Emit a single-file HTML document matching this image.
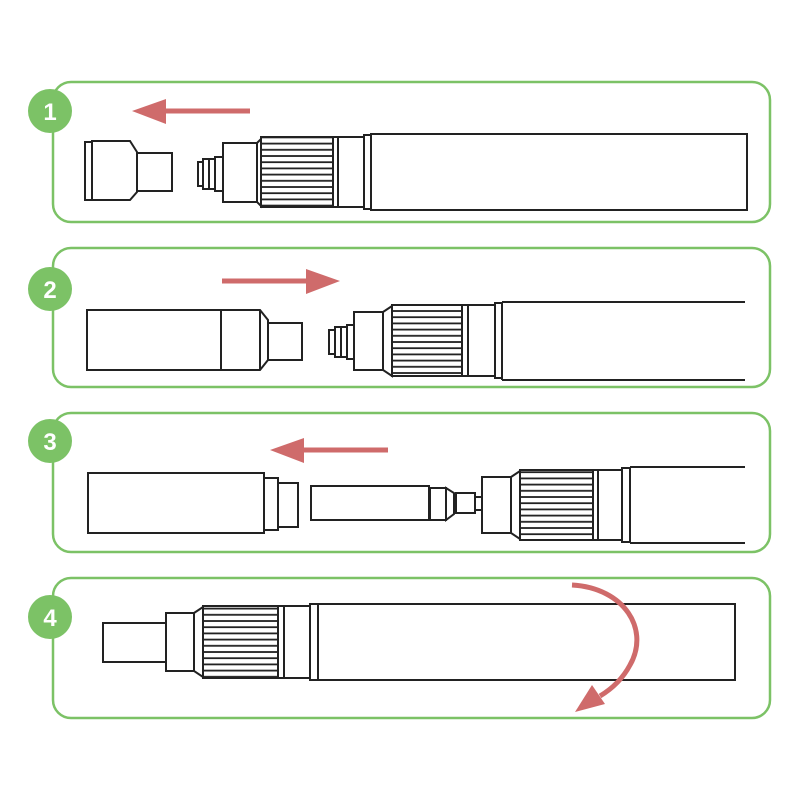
<!DOCTYPE html>
<html><head><meta charset="utf-8"><style>html,body{margin:0;padding:0;background:#fff}svg{display:block}</style></head>
<body>
<svg width="800" height="800" viewBox="0 0 800 800" xmlns="http://www.w3.org/2000/svg">
<defs>
<pattern id="kn" width="10" height="6.2" patternUnits="userSpaceOnUse"><rect width="10" height="6.2" fill="#fff"/><line x1="0" y1="1" x2="10" y2="1" stroke="#222" stroke-width="1.8"/></pattern>
</defs>
<g fill="none" stroke="#7cc266" stroke-width="2.5">
<rect x="53" y="82" width="717" height="140" rx="18"/>
<rect x="53" y="248" width="717" height="139" rx="18"/>
<rect x="53" y="413" width="717" height="139" rx="18"/>
<rect x="53" y="578" width="717" height="140" rx="18"/>
</g>
<g fill="#7cc266"><circle cx="50" cy="111" r="22"/><circle cx="50" cy="289" r="22"/><circle cx="50" cy="441" r="22"/><circle cx="50" cy="617" r="22"/></g>
<g fill="#fff" font-family="Liberation Sans, sans-serif" font-weight="bold" font-size="24" text-anchor="middle">
<text x="50" y="120">1</text><text x="50" y="298">2</text><text x="50" y="450">3</text><text x="50" y="626">4</text></g>
<g fill="#cf6b6b" stroke="#cf6b6b">
<line x1="160" y1="111" x2="250" y2="111" stroke-width="5"/><polygon points="132,111 166,99 166,124" stroke="none"/>
<line x1="222" y1="281" x2="312" y2="281" stroke-width="5"/><polygon points="340,281 306,269 306,294" stroke="none"/>
<line x1="300" y1="450" x2="388" y2="450" stroke-width="5"/><polygon points="270,450 304,438 304,463" stroke="none"/>
</g>
<g stroke="#222" stroke-width="2" fill="#fff">
<rect x="85" y="142" width="7" height="58"/>
<path d="M92 141 H130 L137 152 V192 L130 200 H92 Z"/>
<rect x="137" y="153" width="35" height="38"/>
<rect x="198" y="162" width="5" height="24"/><rect x="203" y="159" width="6" height="30"/><rect x="209" y="159" width="6" height="30"/><rect x="215" y="157" width="8" height="34"/>
<rect x="223" y="143" width="34" height="59"/>
<path d="M257 143 L261 139 V206 L257 202 Z"/>
<rect x="261" y="137" width="72" height="70" fill="url(#kn)"/>
<rect x="333" y="137" width="5" height="70"/>
<rect x="338" y="137" width="26" height="70"/>
<rect x="364" y="135" width="7" height="74"/>
<rect x="371" y="134" width="376" height="76"/>
<rect x="87" y="310" width="134" height="60"/>
<path d="M221 310 H260 L268 320 V360 L260 370 H221 Z"/>
<line x1="260" y1="310" x2="260" y2="370"/>
<rect x="268" y="323" width="34" height="37"/>
<rect x="329" y="330" width="6" height="24"/><rect x="335" y="327" width="6" height="30"/><rect x="341" y="327" width="6" height="30"/><rect x="347" y="325" width="7" height="34"/>
<rect x="354" y="312" width="29" height="58"/>
<path d="M383 312 L392 306 V376 L383 370 Z"/>
<rect x="392" y="305" width="70" height="71" fill="url(#kn)"/>
<rect x="462" y="305" width="6" height="71"/>
<rect x="468" y="305" width="27" height="71"/>
<rect x="495" y="303" width="7" height="75"/>
<path d="M502 302 H745 M502 380 H745 M502 302 V380"/>
<rect x="88" y="473" width="176" height="60"/>
<rect x="264" y="478" width="14" height="52"/>
<rect x="278" y="483" width="20" height="44"/>
<rect x="311" y="486" width="118" height="34"/>
<rect x="430" y="488" width="16" height="32"/>
<path d="M446 488 L454 493 V514 L446 520 Z"/>
<rect x="456" y="493" width="19" height="20"/>
<rect x="475" y="497" width="7" height="13"/>
<rect x="482" y="477" width="29" height="56"/>
<path d="M511 477 L520 471 V539 L511 533 Z"/>
<rect x="520" y="470" width="73" height="70" fill="url(#kn)"/>
<rect x="593" y="470" width="5" height="70"/>
<rect x="598" y="470" width="24" height="70"/>
<rect x="622" y="468" width="8" height="74"/>
<path d="M630 467 H745 M630 543 H745 M630 467 V543"/>
<rect x="103" y="623" width="63" height="39"/>
<rect x="166" y="613" width="28" height="58"/>
<path d="M194 613 L203 607 V677 L194 671 Z"/>
<rect x="203" y="606" width="75" height="72" fill="url(#kn)"/>
<rect x="278" y="606" width="6" height="72"/>
<rect x="284" y="606" width="26" height="72"/>
<rect x="310" y="604" width="8" height="76"/>
<rect x="318" y="604" width="417" height="76"/>
</g>
<path d="M572 585 C625 588 650 630 630 665 C622 680 610 690 600 696" fill="none" stroke="#cf6b6b" stroke-width="5"/>
<polygon points="575,712 592,685 605,704" fill="#cf6b6b"/>
</svg>
</body></html>
